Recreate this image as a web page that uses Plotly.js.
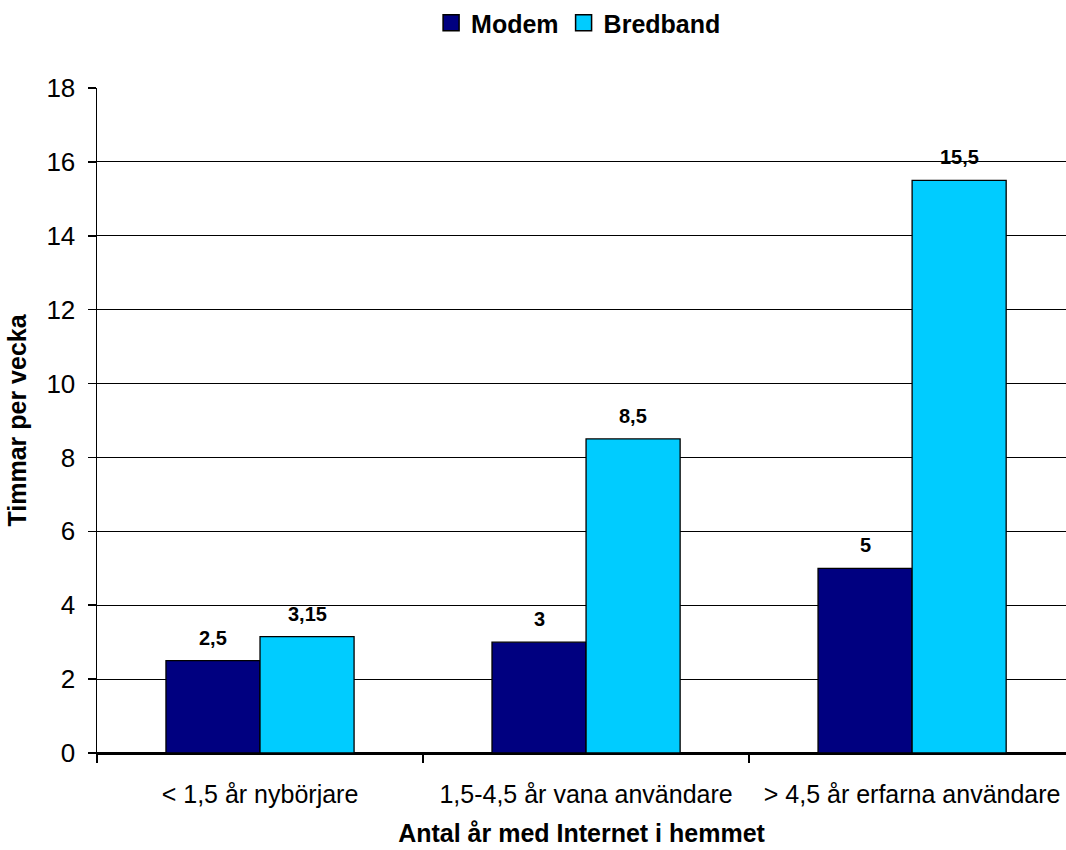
<!DOCTYPE html>
<html>
<head>
<meta charset="utf-8">
<script src="https://cdn.plot.ly/plotly-3.0.1.min.js"></script>
<style>html,body{margin:0;padding:0;background:#fff;}#chart{width:1066px;height:850px;}</style>
</head>
<body>
<div id="chart"></div>
<script>
var categories = ['< 1,5 år nybörjare', '1,5-4,5 år vana användare', '> 4,5 år erfarna användare'];
var modem = [2.5, 3, 5];
var bredband = [3.15, 8.5, 15.5];
var seriesNames = ['Modem', 'Bredband'];
var seriesColors = ['#000080', '#00CCFF'];
var yTicks = [0, 2, 4, 6, 8, 10, 12, 14, 16, 18];

var FONT = 'Liberation Sans, Arial, sans-serif';
function fmt(v) { return String(v).replace('.', ','); }

var traces = [
  { type: 'bar', name: seriesNames[0], x: categories, y: modem, showlegend: false,
    marker: { color: seriesColors[0], line: { color: '#000000', width: 1.3 } }, hoverinfo: 'y' },
  { type: 'bar', name: seriesNames[1], x: categories, y: bredband, showlegend: false,
    marker: { color: seriesColors[1], line: { color: '#000000', width: 1.3 } }, hoverinfo: 'y' }
];
// legend entries with larger square swatches
seriesNames.forEach(function (n, i) {
  traces.push({ type: 'scatter', mode: 'markers', name: n, x: [null], y: [null], showlegend: true,
    marker: { symbol: 'square', size: 16, color: seriesColors[i], line: { color: '#000', width: 1.5 } },
    hoverinfo: 'skip' });
});

var annotations = [];
[modem, bredband].forEach(function (series, si) {
  series.forEach(function (v, i) {
    annotations.push({
      x: categories[i], y: v, xref: 'x', yref: 'y',
      text: '<b>' + fmt(v) + '</b>', showarrow: false,
      xshift: si === 0 ? -47 : 47, yshift: 23,
      font: { family: FONT, size: 20, color: '#000' }
    });
  });
});

var layout = {
  width: 1066, height: 850,
  margin: { l: 97, r: 0, t: 87, b: 97, pad: 0 },
  paper_bgcolor: '#fff', plot_bgcolor: '#fff',
  font: { family: FONT, color: '#000', size: 25 },
  barmode: 'group', bargap: 0.423, bargroupgap: 0,
  showlegend: true,
  legend: {
    orientation: 'h', x: 0.497, xref: 'paper', xanchor: 'center', y: 1.0976, yanchor: 'middle',
    font: { family: FONT, size: 25, color: '#000', weight: 'bold' },
    itemwidth: 30, tracegroupgap: 0, traceorder: 'normal'
  },
  xaxis: {
    type: 'category', range: [-0.5, 2.472], fixedrange: true,
    showline: true, linecolor: '#000', linewidth: 1.5,
    ticks: 'outside', tickson: 'boundaries', ticklen: 8, tickcolor: '#000', tickwidth: 1.5,
    ticklabelstandoff: 18,
    tickfont: { family: FONT, size: 25, color: '#000' },
    showgrid: false, zeroline: false,
    title: { text: '<b>Antal år med Internet i hemmet</b>', font: { family: FONT, size: 25, color: '#000' }, standoff: 18 }
  },
  yaxis: {
    range: [0, 18], tickvals: yTicks, ticktext: yTicks.map(String), fixedrange: true,
    showline: true, linecolor: '#000', linewidth: 1.5,
    ticks: 'outside', ticklen: 8, tickcolor: '#000', tickwidth: 1.5,
    ticklabelstandoff: 7,
    tickfont: { family: FONT, size: 26, color: '#000' },
    showgrid: true, gridcolor: '#000', gridwidth: 1.2,
    zeroline: true, zerolinecolor: '#000', zerolinewidth: 1.5,
    title: { text: '<b>Timmar per vecka</b>', font: { family: FONT, size: 25, color: '#000' }, standoff: 12 }
  },
  annotations: annotations
};

Plotly.newPlot('chart', traces, layout, { displayModeBar: false, staticPlot: true });
</script>
</body>
</html>
